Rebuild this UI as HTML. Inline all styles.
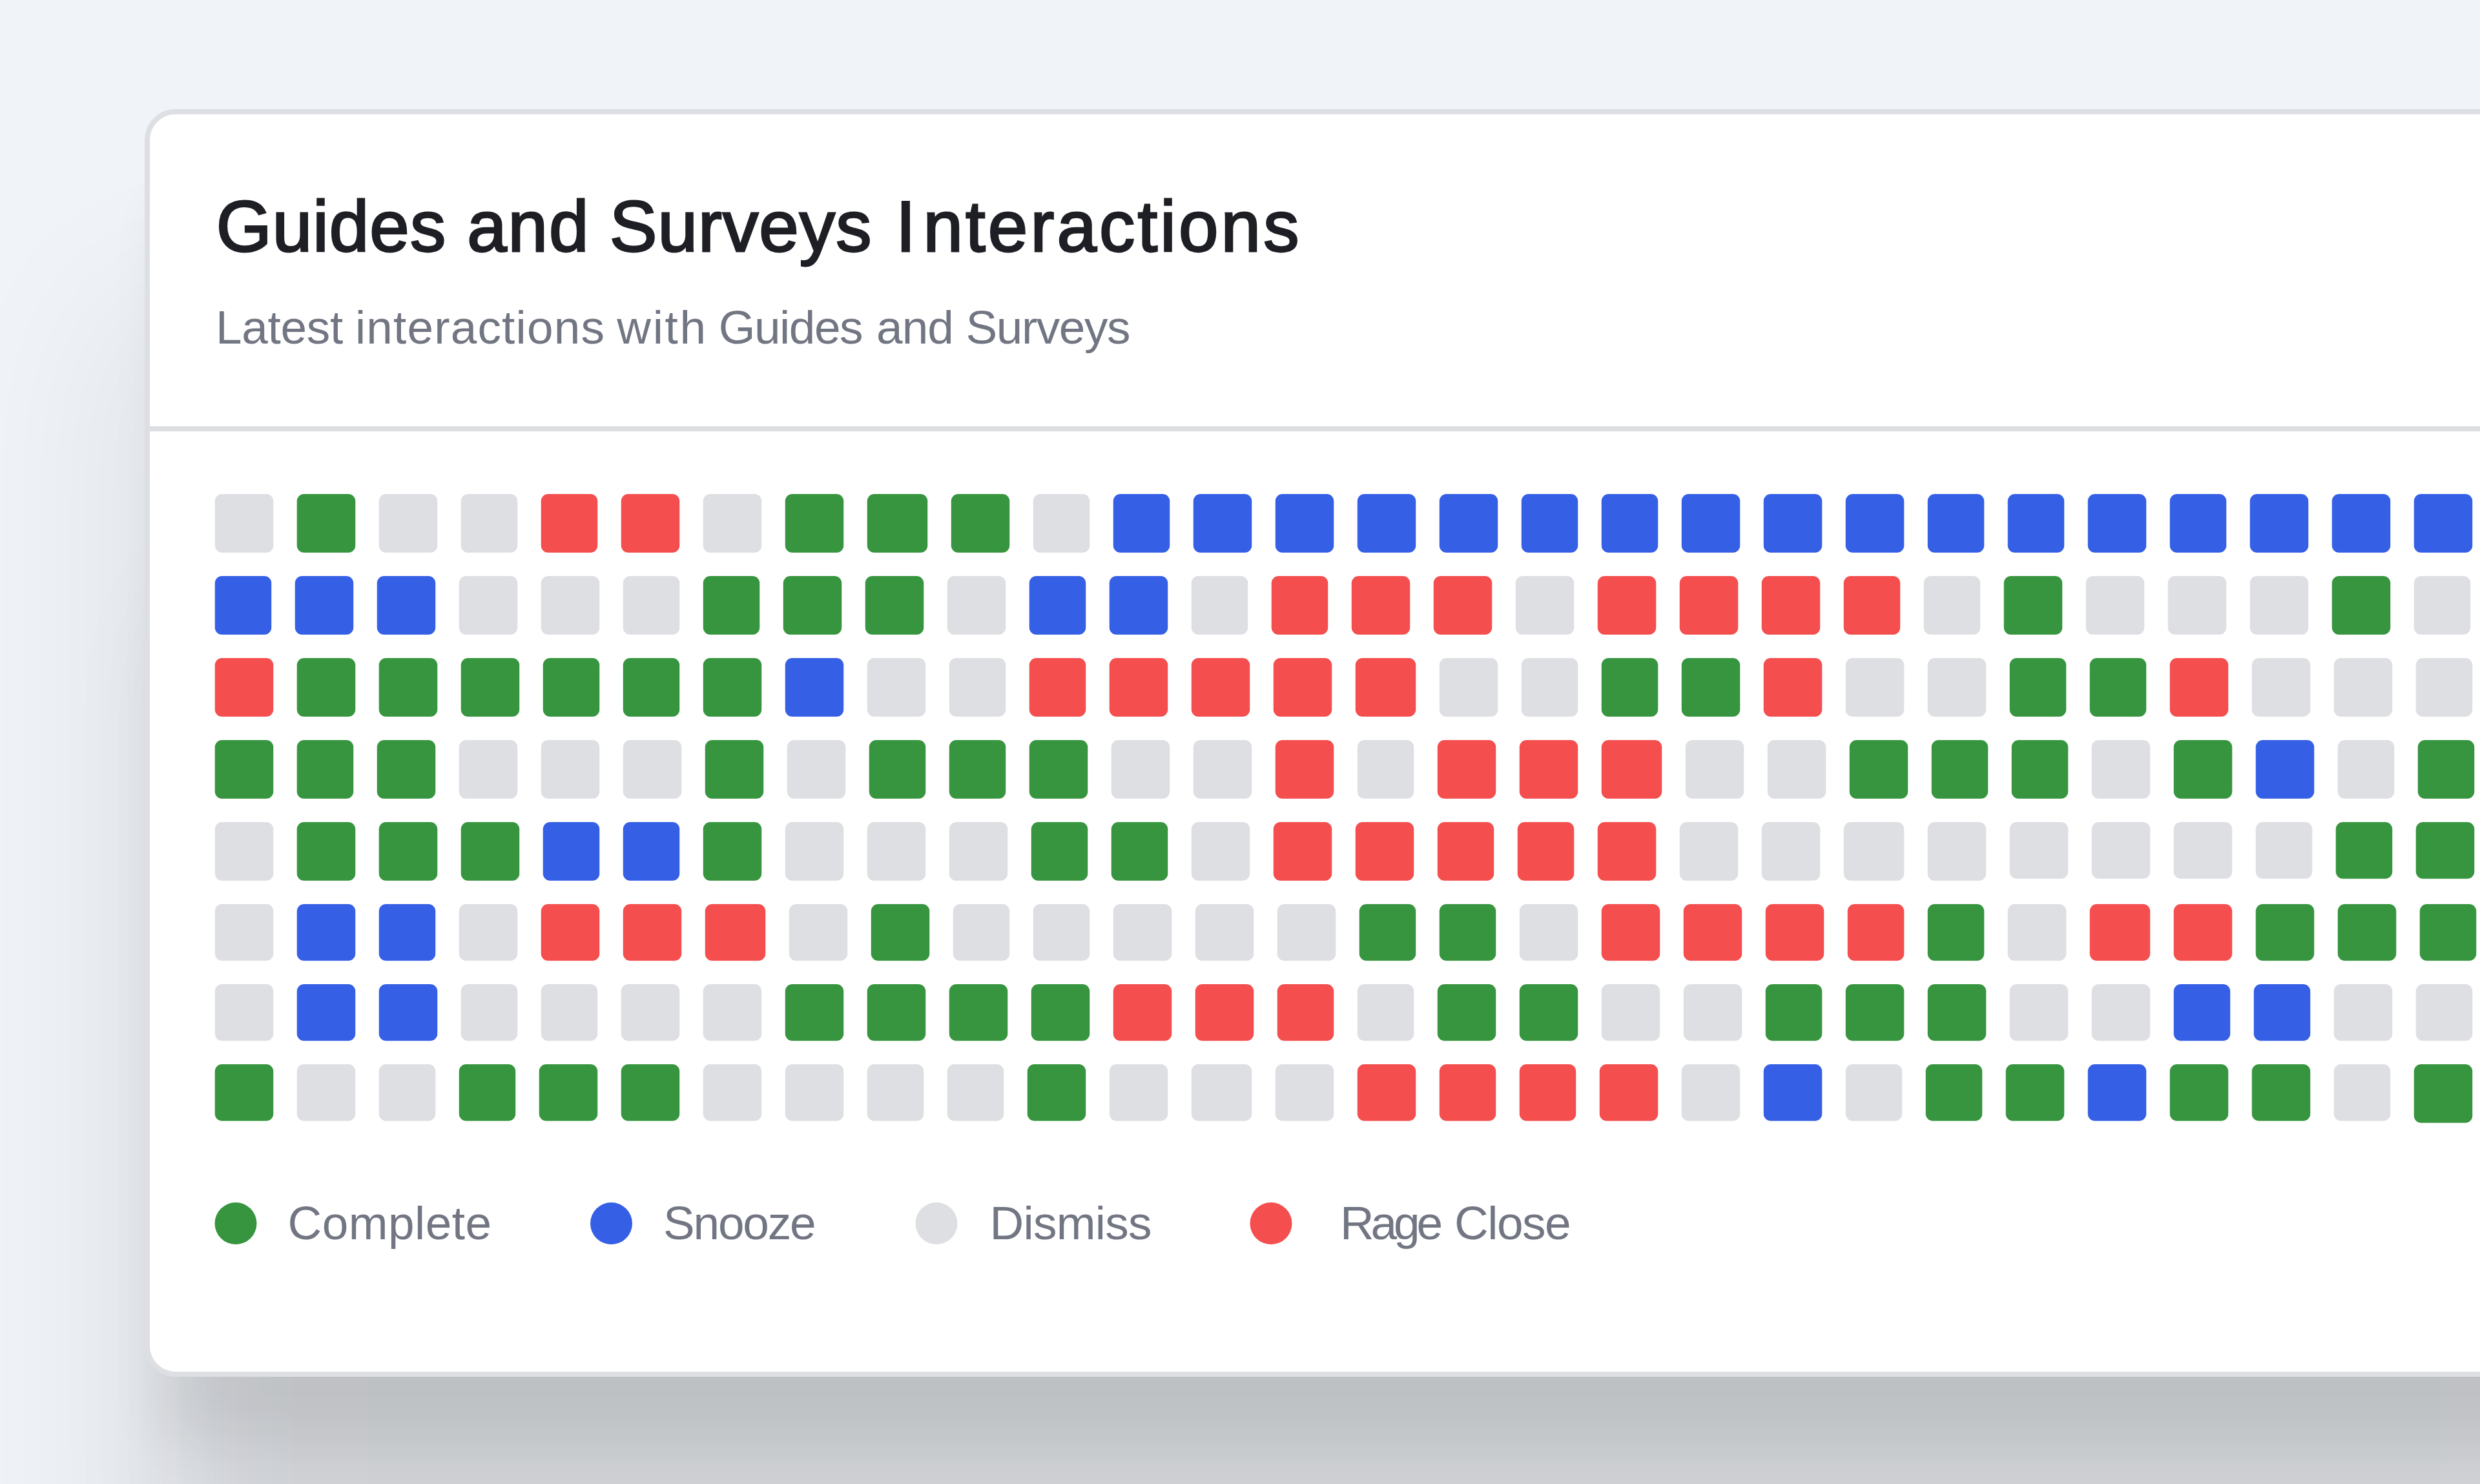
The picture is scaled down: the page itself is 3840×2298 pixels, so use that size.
<!DOCTYPE html>
<html lang="en"><head><meta charset="utf-8"><title>Guides and Surveys Interactions</title>
<style>
html,body{margin:0;padding:0}
body{width:3840px;height:2298px;overflow:hidden;position:relative;background:#F0F3F8;font-family:"Liberation Sans",sans-serif}
.card{position:absolute;box-sizing:border-box;left:224px;top:169px;width:3900px;height:1963px;background:#fff;border:8px solid #DEDFE3;border-radius:48px;box-shadow:0 121.2px 82.6px -25.5px rgba(0,0,0,0.076), 0 354.7px 264.5px 81.9px rgba(0,0,0,0.059), 0 700.0px 186.1px -66.8px rgba(0,0,0,0.091)}
.divider{position:absolute;left:232px;top:660px;width:3900px;height:8px;background:#DEDFE3}
h1,p,.legend{margin:0;padding:0;font-weight:400}
span{position:absolute;white-space:nowrap;display:block}
.t{font-size:110.6px;line-height:110.6px;font-weight:400;-webkit-text-stroke:2.8px #1E1F24;color:#1E1F24}
.s{font-size:73px;line-height:73px;color:#717682}
.l{font-size:73px;line-height:73px;color:#717682}
svg{position:absolute;left:0;top:0}
#page{position:absolute;left:0;top:0;width:3840px;height:2298px;overflow:hidden;background:#F0F3F8}
</style></head><body>
<div id="page">
<div class="card"></div>
<div class="divider"></div>
<h1><span class="t" style="left:334.70px;top:295.88px;letter-spacing:1.017px">Guides</span> <span class="t" style="left:723.30px;top:295.88px;letter-spacing:1.793px">and</span> <span class="t" style="left:943.70px;top:295.88px;letter-spacing:1.050px">Surveys</span> <span class="t" style="left:1387.00px;top:295.88px;letter-spacing:4.112px"><b style="font-weight:inherit;letter-spacing:11.674px">I</b>nteractions</span></h1>
<p><span class="s" style="left:333.90px;top:470.21px;letter-spacing:-0.296px">Latest</span> <span class="s" style="left:550.00px;top:470.21px;letter-spacing:1.145px">interactions</span> <span class="s" style="left:955.30px;top:470.21px;letter-spacing:2.694px">with</span> <span class="s" style="left:1112.70px;top:470.21px;letter-spacing:-1.499px">Guides</span> <span class="s" style="left:1357.00px;top:470.21px;letter-spacing:-0.949px">and</span> <span class="s" style="left:1495.60px;top:470.21px;letter-spacing:-1.483px">Surveys</span></p>
<svg width="3840" height="2298" viewBox="0 0 3840 2298">
<rect x="332.75" y="765" width="90.5" height="90.80" rx="11" fill="#DEDFE3"/>
<rect x="459.75" y="765" width="90.5" height="90.80" rx="11" fill="#37953F"/>
<rect x="586.75" y="765" width="90.5" height="90.80" rx="11" fill="#DEDFE3"/>
<rect x="713.75" y="765" width="87.5" height="90.80" rx="11" fill="#DEDFE3"/>
<rect x="837.75" y="765" width="87.5" height="90.80" rx="11" fill="#F44E4E"/>
<rect x="961.75" y="765" width="90.5" height="90.80" rx="11" fill="#F44E4E"/>
<rect x="1088.75" y="765" width="90.5" height="90.80" rx="11" fill="#DEDFE3"/>
<rect x="1215.75" y="765" width="90.5" height="90.80" rx="11" fill="#37953F"/>
<rect x="1342.75" y="765" width="93.5" height="90.80" rx="11" fill="#37953F"/>
<rect x="1472.75" y="765" width="90.5" height="90.80" rx="11" fill="#37953F"/>
<rect x="1599.75" y="765" width="87.5" height="90.80" rx="11" fill="#DEDFE3"/>
<rect x="1723.75" y="765" width="87.5" height="90.80" rx="11" fill="#355FE5"/>
<rect x="1847.75" y="765" width="90.5" height="90.80" rx="11" fill="#355FE5"/>
<rect x="1974.75" y="765" width="90.5" height="90.80" rx="11" fill="#355FE5"/>
<rect x="2101.75" y="765" width="90.5" height="90.80" rx="11" fill="#355FE5"/>
<rect x="2228.75" y="765" width="90.5" height="90.80" rx="11" fill="#355FE5"/>
<rect x="2355.75" y="765" width="87.5" height="90.80" rx="11" fill="#355FE5"/>
<rect x="2479.75" y="765" width="87.5" height="90.80" rx="11" fill="#355FE5"/>
<rect x="2603.75" y="765" width="90.5" height="90.80" rx="11" fill="#355FE5"/>
<rect x="2730.75" y="765" width="90.5" height="90.80" rx="11" fill="#355FE5"/>
<rect x="2857.75" y="765" width="90.5" height="90.80" rx="11" fill="#355FE5"/>
<rect x="2984.75" y="765" width="87.5" height="90.80" rx="11" fill="#355FE5"/>
<rect x="3108.75" y="765" width="87.5" height="90.80" rx="11" fill="#355FE5"/>
<rect x="3232.75" y="765" width="90.5" height="90.80" rx="11" fill="#355FE5"/>
<rect x="3359.75" y="765" width="87.5" height="90.80" rx="11" fill="#355FE5"/>
<rect x="3483.75" y="765" width="90.5" height="90.80" rx="11" fill="#355FE5"/>
<rect x="3610.75" y="765" width="90.5" height="90.80" rx="11" fill="#355FE5"/>
<rect x="3737.75" y="765" width="90.5" height="90.80" rx="11" fill="#355FE5"/>
<rect x="332.75" y="892" width="87.5" height="90.80" rx="11" fill="#355FE5"/>
<rect x="456.75" y="892" width="90.5" height="90.80" rx="11" fill="#355FE5"/>
<rect x="583.75" y="892" width="90.5" height="90.80" rx="11" fill="#355FE5"/>
<rect x="710.75" y="892" width="90.5" height="90.80" rx="11" fill="#DEDFE3"/>
<rect x="837.75" y="892" width="90.5" height="90.80" rx="11" fill="#DEDFE3"/>
<rect x="964.75" y="892" width="87.5" height="90.80" rx="11" fill="#DEDFE3"/>
<rect x="1088.75" y="892" width="87.5" height="90.80" rx="11" fill="#37953F"/>
<rect x="1212.75" y="892" width="90.5" height="90.80" rx="11" fill="#37953F"/>
<rect x="1339.75" y="892" width="90.5" height="90.80" rx="11" fill="#37953F"/>
<rect x="1466.75" y="892" width="90.5" height="90.80" rx="11" fill="#DEDFE3"/>
<rect x="1593.75" y="892" width="87.5" height="90.80" rx="11" fill="#355FE5"/>
<rect x="1717.75" y="892" width="90.5" height="90.80" rx="11" fill="#355FE5"/>
<rect x="1844.75" y="892" width="87.5" height="90.80" rx="11" fill="#DEDFE3"/>
<rect x="1968.75" y="892" width="87.5" height="90.80" rx="11" fill="#F44E4E"/>
<rect x="2092.75" y="892" width="90.5" height="90.80" rx="11" fill="#F44E4E"/>
<rect x="2219.75" y="892" width="90.5" height="90.80" rx="11" fill="#F44E4E"/>
<rect x="2346.75" y="892" width="90.5" height="90.80" rx="11" fill="#DEDFE3"/>
<rect x="2473.75" y="892" width="90.5" height="90.80" rx="11" fill="#F44E4E"/>
<rect x="2600.75" y="892" width="90.5" height="90.80" rx="11" fill="#F44E4E"/>
<rect x="2727.75" y="892" width="90.5" height="90.80" rx="11" fill="#F44E4E"/>
<rect x="2854.75" y="892" width="87.5" height="90.80" rx="11" fill="#F44E4E"/>
<rect x="2978.75" y="892" width="87.5" height="90.80" rx="11" fill="#DEDFE3"/>
<rect x="3102.75" y="892" width="90.5" height="90.80" rx="11" fill="#37953F"/>
<rect x="3229.75" y="892" width="90.5" height="90.80" rx="11" fill="#DEDFE3"/>
<rect x="3356.75" y="892" width="90.5" height="90.80" rx="11" fill="#DEDFE3"/>
<rect x="3483.75" y="892" width="90.5" height="90.80" rx="11" fill="#DEDFE3"/>
<rect x="3610.75" y="892" width="90.5" height="90.80" rx="11" fill="#37953F"/>
<rect x="3737.75" y="892" width="87.5" height="90.80" rx="11" fill="#DEDFE3"/>
<rect x="332.75" y="1019" width="90.5" height="90.80" rx="11" fill="#F44E4E"/>
<rect x="459.75" y="1019" width="90.5" height="90.80" rx="11" fill="#37953F"/>
<rect x="586.75" y="1019" width="90.5" height="90.80" rx="11" fill="#37953F"/>
<rect x="713.75" y="1019" width="90.5" height="90.80" rx="11" fill="#37953F"/>
<rect x="840.75" y="1019" width="87.5" height="90.80" rx="11" fill="#37953F"/>
<rect x="964.75" y="1019" width="87.5" height="90.80" rx="11" fill="#37953F"/>
<rect x="1088.75" y="1019" width="90.5" height="90.80" rx="11" fill="#37953F"/>
<rect x="1215.75" y="1019" width="90.5" height="90.80" rx="11" fill="#355FE5"/>
<rect x="1342.75" y="1019" width="90.5" height="90.80" rx="11" fill="#DEDFE3"/>
<rect x="1469.75" y="1019" width="87.5" height="90.80" rx="11" fill="#DEDFE3"/>
<rect x="1593.75" y="1019" width="87.5" height="90.80" rx="11" fill="#F44E4E"/>
<rect x="1717.75" y="1019" width="90.5" height="90.80" rx="11" fill="#F44E4E"/>
<rect x="1844.75" y="1019" width="90.5" height="90.80" rx="11" fill="#F44E4E"/>
<rect x="1971.75" y="1019" width="90.5" height="90.80" rx="11" fill="#F44E4E"/>
<rect x="2098.75" y="1019" width="93.5" height="90.80" rx="11" fill="#F44E4E"/>
<rect x="2228.75" y="1019" width="90.5" height="90.80" rx="11" fill="#DEDFE3"/>
<rect x="2355.75" y="1019" width="87.5" height="90.80" rx="11" fill="#DEDFE3"/>
<rect x="2479.75" y="1019" width="87.5" height="90.80" rx="11" fill="#37953F"/>
<rect x="2603.75" y="1019" width="90.5" height="90.80" rx="11" fill="#37953F"/>
<rect x="2730.75" y="1019" width="90.5" height="90.80" rx="11" fill="#F44E4E"/>
<rect x="2857.75" y="1019" width="90.5" height="90.80" rx="11" fill="#DEDFE3"/>
<rect x="2984.75" y="1019" width="90.5" height="90.80" rx="11" fill="#DEDFE3"/>
<rect x="3111.75" y="1019" width="87.5" height="90.80" rx="11" fill="#37953F"/>
<rect x="3235.75" y="1019" width="87.5" height="90.80" rx="11" fill="#37953F"/>
<rect x="3359.75" y="1019" width="90.5" height="90.80" rx="11" fill="#F44E4E"/>
<rect x="3486.75" y="1019" width="90.5" height="90.80" rx="11" fill="#DEDFE3"/>
<rect x="3613.75" y="1019" width="90.5" height="90.80" rx="11" fill="#DEDFE3"/>
<rect x="3740.75" y="1019" width="87.5" height="90.80" rx="11" fill="#DEDFE3"/>
<rect x="332.75" y="1146" width="90.5" height="90.80" rx="11" fill="#37953F"/>
<rect x="459.75" y="1146" width="87.5" height="90.80" rx="11" fill="#37953F"/>
<rect x="583.75" y="1146" width="90.5" height="90.80" rx="11" fill="#37953F"/>
<rect x="710.75" y="1146" width="90.5" height="90.80" rx="11" fill="#DEDFE3"/>
<rect x="837.75" y="1146" width="90.5" height="90.80" rx="11" fill="#DEDFE3"/>
<rect x="964.75" y="1146" width="90.5" height="90.80" rx="11" fill="#DEDFE3"/>
<rect x="1091.75" y="1146" width="90.5" height="90.80" rx="11" fill="#37953F"/>
<rect x="1218.75" y="1146" width="90.5" height="90.80" rx="11" fill="#DEDFE3"/>
<rect x="1345.75" y="1146" width="87.5" height="90.80" rx="11" fill="#37953F"/>
<rect x="1469.75" y="1146" width="87.5" height="90.80" rx="11" fill="#37953F"/>
<rect x="1593.75" y="1146" width="90.5" height="90.80" rx="11" fill="#37953F"/>
<rect x="1720.75" y="1146" width="90.5" height="90.80" rx="11" fill="#DEDFE3"/>
<rect x="1847.75" y="1146" width="90.5" height="90.80" rx="11" fill="#DEDFE3"/>
<rect x="1974.75" y="1146" width="90.5" height="90.80" rx="11" fill="#F44E4E"/>
<rect x="2101.75" y="1146" width="87.5" height="90.80" rx="11" fill="#DEDFE3"/>
<rect x="2225.75" y="1146" width="90.5" height="90.80" rx="11" fill="#F44E4E"/>
<rect x="2352.75" y="1146" width="90.5" height="90.80" rx="11" fill="#F44E4E"/>
<rect x="2479.75" y="1146" width="93.5" height="90.80" rx="11" fill="#F44E4E"/>
<rect x="2609.75" y="1146" width="90.5" height="90.80" rx="11" fill="#DEDFE3"/>
<rect x="2736.75" y="1146" width="90.5" height="90.80" rx="11" fill="#DEDFE3"/>
<rect x="2863.75" y="1146" width="90.5" height="90.80" rx="11" fill="#37953F"/>
<rect x="2990.75" y="1146" width="87.5" height="90.80" rx="11" fill="#37953F"/>
<rect x="3114.75" y="1146" width="87.5" height="90.80" rx="11" fill="#37953F"/>
<rect x="3238.75" y="1146" width="90.5" height="90.80" rx="11" fill="#DEDFE3"/>
<rect x="3365.75" y="1146" width="90.5" height="90.80" rx="11" fill="#37953F"/>
<rect x="3492.75" y="1146" width="90.5" height="90.80" rx="11" fill="#355FE5"/>
<rect x="3619.75" y="1146" width="87.5" height="90.80" rx="11" fill="#DEDFE3"/>
<rect x="3743.75" y="1146" width="87.5" height="90.80" rx="11" fill="#37953F"/>
<rect x="332.75" y="1273" width="90.5" height="90.80" rx="11" fill="#DEDFE3"/>
<rect x="459.75" y="1273" width="90.5" height="90.80" rx="11" fill="#37953F"/>
<rect x="586.75" y="1273" width="90.5" height="90.80" rx="11" fill="#37953F"/>
<rect x="713.75" y="1273" width="90.5" height="90.80" rx="11" fill="#37953F"/>
<rect x="840.75" y="1273" width="87.5" height="90.80" rx="11" fill="#355FE5"/>
<rect x="964.75" y="1273" width="87.5" height="90.80" rx="11" fill="#355FE5"/>
<rect x="1088.75" y="1273" width="90.5" height="90.80" rx="11" fill="#37953F"/>
<rect x="1215.75" y="1273" width="90.5" height="90.80" rx="11" fill="#DEDFE3"/>
<rect x="1342.75" y="1273" width="90.5" height="90.80" rx="11" fill="#DEDFE3"/>
<rect x="1469.75" y="1273" width="90.5" height="90.80" rx="11" fill="#DEDFE3"/>
<rect x="1596.75" y="1273" width="87.5" height="90.80" rx="11" fill="#37953F"/>
<rect x="1720.75" y="1273" width="87.5" height="90.80" rx="11" fill="#37953F"/>
<rect x="1844.75" y="1273" width="90.5" height="90.80" rx="11" fill="#DEDFE3"/>
<rect x="1971.75" y="1273" width="90.5" height="90.80" rx="11" fill="#F44E4E"/>
<rect x="2098.75" y="1273" width="90.5" height="90.80" rx="11" fill="#F44E4E"/>
<rect x="2225.75" y="1273" width="87.5" height="90.80" rx="11" fill="#F44E4E"/>
<rect x="2349.75" y="1273" width="87.5" height="90.80" rx="11" fill="#F44E4E"/>
<rect x="2473.75" y="1273" width="90.5" height="90.80" rx="11" fill="#F44E4E"/>
<rect x="2600.75" y="1273" width="90.5" height="90.80" rx="11" fill="#DEDFE3"/>
<rect x="2727.75" y="1273" width="90.5" height="90.80" rx="11" fill="#DEDFE3"/>
<rect x="2854.75" y="1273" width="93.5" height="90.80" rx="11" fill="#DEDFE3"/>
<rect x="2984.75" y="1273" width="90.5" height="90.80" rx="11" fill="#DEDFE3"/>
<rect x="3111.75" y="1273" width="90.5" height="87.80" rx="11" fill="#DEDFE3"/>
<rect x="3238.75" y="1273" width="90.5" height="87.80" rx="11" fill="#DEDFE3"/>
<rect x="3365.75" y="1273" width="90.5" height="87.80" rx="11" fill="#DEDFE3"/>
<rect x="3492.75" y="1273" width="87.5" height="87.80" rx="11" fill="#DEDFE3"/>
<rect x="3616.75" y="1273" width="87.5" height="87.80" rx="11" fill="#37953F"/>
<rect x="3740.75" y="1273" width="90.5" height="87.80" rx="11" fill="#37953F"/>
<rect x="332.75" y="1400" width="90.5" height="87.80" rx="11" fill="#DEDFE3"/>
<rect x="459.75" y="1400" width="90.5" height="87.80" rx="11" fill="#355FE5"/>
<rect x="586.75" y="1400" width="87.5" height="87.80" rx="11" fill="#355FE5"/>
<rect x="710.75" y="1400" width="90.5" height="87.80" rx="11" fill="#DEDFE3"/>
<rect x="837.75" y="1400" width="90.5" height="87.80" rx="11" fill="#F44E4E"/>
<rect x="964.75" y="1400" width="90.5" height="87.80" rx="11" fill="#F44E4E"/>
<rect x="1091.75" y="1400" width="93.5" height="87.80" rx="11" fill="#F44E4E"/>
<rect x="1221.75" y="1400" width="90.5" height="87.80" rx="11" fill="#DEDFE3"/>
<rect x="1348.75" y="1400" width="90.5" height="87.80" rx="11" fill="#37953F"/>
<rect x="1475.75" y="1400" width="87.5" height="87.80" rx="11" fill="#DEDFE3"/>
<rect x="1599.75" y="1400" width="87.5" height="87.80" rx="11" fill="#DEDFE3"/>
<rect x="1723.75" y="1400" width="90.5" height="87.80" rx="11" fill="#DEDFE3"/>
<rect x="1850.75" y="1400" width="90.5" height="87.80" rx="11" fill="#DEDFE3"/>
<rect x="1977.75" y="1400" width="90.5" height="87.80" rx="11" fill="#DEDFE3"/>
<rect x="2104.75" y="1400" width="87.5" height="87.80" rx="11" fill="#37953F"/>
<rect x="2228.75" y="1400" width="87.5" height="87.80" rx="11" fill="#37953F"/>
<rect x="2352.75" y="1400" width="90.5" height="87.80" rx="11" fill="#DEDFE3"/>
<rect x="2479.75" y="1400" width="90.5" height="87.80" rx="11" fill="#F44E4E"/>
<rect x="2606.75" y="1400" width="90.5" height="87.80" rx="11" fill="#F44E4E"/>
<rect x="2733.75" y="1400" width="90.5" height="87.80" rx="11" fill="#F44E4E"/>
<rect x="2860.75" y="1400" width="87.5" height="87.80" rx="11" fill="#F44E4E"/>
<rect x="2984.75" y="1400" width="87.5" height="87.80" rx="11" fill="#37953F"/>
<rect x="3108.75" y="1400" width="90.5" height="87.80" rx="11" fill="#DEDFE3"/>
<rect x="3235.75" y="1400" width="93.5" height="87.80" rx="11" fill="#F44E4E"/>
<rect x="3365.75" y="1400" width="90.5" height="87.80" rx="11" fill="#F44E4E"/>
<rect x="3492.75" y="1400" width="90.5" height="87.80" rx="11" fill="#37953F"/>
<rect x="3619.75" y="1400" width="90.5" height="87.80" rx="11" fill="#37953F"/>
<rect x="3746.75" y="1400" width="87.5" height="87.80" rx="11" fill="#37953F"/>
<rect x="332.75" y="1524" width="90.5" height="87.80" rx="11" fill="#DEDFE3"/>
<rect x="459.75" y="1524" width="90.5" height="87.80" rx="11" fill="#355FE5"/>
<rect x="586.75" y="1524" width="90.5" height="87.80" rx="11" fill="#355FE5"/>
<rect x="713.75" y="1524" width="87.5" height="87.80" rx="11" fill="#DEDFE3"/>
<rect x="837.75" y="1524" width="87.5" height="87.80" rx="11" fill="#DEDFE3"/>
<rect x="961.75" y="1524" width="90.5" height="87.80" rx="11" fill="#DEDFE3"/>
<rect x="1088.75" y="1524" width="90.5" height="87.80" rx="11" fill="#DEDFE3"/>
<rect x="1215.75" y="1524" width="90.5" height="87.80" rx="11" fill="#37953F"/>
<rect x="1342.75" y="1524" width="90.5" height="87.80" rx="11" fill="#37953F"/>
<rect x="1469.75" y="1524" width="90.5" height="87.80" rx="11" fill="#37953F"/>
<rect x="1596.75" y="1524" width="90.5" height="87.80" rx="11" fill="#37953F"/>
<rect x="1723.75" y="1524" width="90.5" height="87.80" rx="11" fill="#F44E4E"/>
<rect x="1850.75" y="1524" width="90.5" height="87.80" rx="11" fill="#F44E4E"/>
<rect x="1977.75" y="1524" width="87.5" height="87.80" rx="11" fill="#F44E4E"/>
<rect x="2101.75" y="1524" width="87.5" height="87.80" rx="11" fill="#DEDFE3"/>
<rect x="2225.75" y="1524" width="90.5" height="87.80" rx="11" fill="#37953F"/>
<rect x="2352.75" y="1524" width="90.5" height="87.80" rx="11" fill="#37953F"/>
<rect x="2479.75" y="1524" width="90.5" height="87.80" rx="11" fill="#DEDFE3"/>
<rect x="2606.75" y="1524" width="90.5" height="87.80" rx="11" fill="#DEDFE3"/>
<rect x="2733.75" y="1524" width="87.5" height="87.80" rx="11" fill="#37953F"/>
<rect x="2857.75" y="1524" width="90.5" height="87.80" rx="11" fill="#37953F"/>
<rect x="2984.75" y="1524" width="90.5" height="87.80" rx="11" fill="#37953F"/>
<rect x="3111.75" y="1524" width="90.5" height="87.80" rx="11" fill="#DEDFE3"/>
<rect x="3238.75" y="1524" width="90.5" height="87.80" rx="11" fill="#DEDFE3"/>
<rect x="3365.75" y="1524" width="87.5" height="87.80" rx="11" fill="#355FE5"/>
<rect x="3489.75" y="1524" width="87.5" height="87.80" rx="11" fill="#355FE5"/>
<rect x="3613.75" y="1524" width="90.5" height="87.80" rx="11" fill="#DEDFE3"/>
<rect x="3740.75" y="1524" width="87.5" height="87.80" rx="11" fill="#DEDFE3"/>
<rect x="332.75" y="1648" width="90.5" height="87.80" rx="11" fill="#37953F"/>
<rect x="459.75" y="1648" width="90.5" height="87.80" rx="11" fill="#DEDFE3"/>
<rect x="586.75" y="1648" width="87.5" height="87.80" rx="11" fill="#DEDFE3"/>
<rect x="710.75" y="1648" width="87.5" height="87.80" rx="11" fill="#37953F"/>
<rect x="834.75" y="1648" width="90.5" height="87.80" rx="11" fill="#37953F"/>
<rect x="961.75" y="1648" width="90.5" height="87.80" rx="11" fill="#37953F"/>
<rect x="1088.75" y="1648" width="90.5" height="87.80" rx="11" fill="#DEDFE3"/>
<rect x="1215.75" y="1648" width="90.5" height="87.80" rx="11" fill="#DEDFE3"/>
<rect x="1342.75" y="1648" width="87.5" height="87.80" rx="11" fill="#DEDFE3"/>
<rect x="1466.75" y="1648" width="87.5" height="87.80" rx="11" fill="#DEDFE3"/>
<rect x="1590.75" y="1648" width="90.5" height="87.80" rx="11" fill="#37953F"/>
<rect x="1717.75" y="1648" width="90.5" height="87.80" rx="11" fill="#DEDFE3"/>
<rect x="1844.75" y="1648" width="93.5" height="87.80" rx="11" fill="#DEDFE3"/>
<rect x="1974.75" y="1648" width="90.5" height="87.80" rx="11" fill="#DEDFE3"/>
<rect x="2101.75" y="1648" width="90.5" height="87.80" rx="11" fill="#F44E4E"/>
<rect x="2228.75" y="1648" width="87.5" height="87.80" rx="11" fill="#F44E4E"/>
<rect x="2352.75" y="1648" width="87.5" height="87.80" rx="11" fill="#F44E4E"/>
<rect x="2476.75" y="1648" width="90.5" height="87.80" rx="11" fill="#F44E4E"/>
<rect x="2603.75" y="1648" width="90.5" height="87.80" rx="11" fill="#DEDFE3"/>
<rect x="2730.75" y="1648" width="90.5" height="87.80" rx="11" fill="#355FE5"/>
<rect x="2857.75" y="1648" width="87.5" height="87.80" rx="11" fill="#DEDFE3"/>
<rect x="2981.75" y="1648" width="87.5" height="87.80" rx="11" fill="#37953F"/>
<rect x="3105.75" y="1648" width="90.5" height="87.80" rx="11" fill="#37953F"/>
<rect x="3232.75" y="1648" width="90.5" height="87.80" rx="11" fill="#355FE5"/>
<rect x="3359.75" y="1648" width="90.5" height="87.80" rx="11" fill="#37953F"/>
<rect x="3486.75" y="1648" width="90.5" height="87.80" rx="11" fill="#37953F"/>
<rect x="3613.75" y="1648" width="87.5" height="87.80" rx="11" fill="#DEDFE3"/>
<rect x="3737.75" y="1648" width="90.5" height="90.80" rx="11" fill="#37953F"/>
<circle cx="365" cy="1894.5" r="32.5" fill="#37953F"/>
<circle cx="946.5" cy="1894.5" r="32.5" fill="#355FE5"/>
<circle cx="1450" cy="1894.5" r="32.5" fill="#DEDFE3"/>
<circle cx="1968" cy="1894.5" r="32.5" fill="#F44E4E"/>
</svg>
<div class="legend"><span class="l" style="left:445.50px;top:1857.21px;letter-spacing:0.454px">Complete</span> <span class="l" style="left:1027.00px;top:1857.21px;letter-spacing:-2.198px">Snooze</span> <span class="l" style="left:1532.50px;top:1857.21px;letter-spacing:-0.744px">Dismiss</span> <span class="l" style="left:2075.00px;top:1857.21px;letter-spacing:-5.139px">Rage</span> <span class="l" style="left:2252.00px;top:1857.21px;letter-spacing:-1.509px">Close</span></div>
</div>
</body></html>
